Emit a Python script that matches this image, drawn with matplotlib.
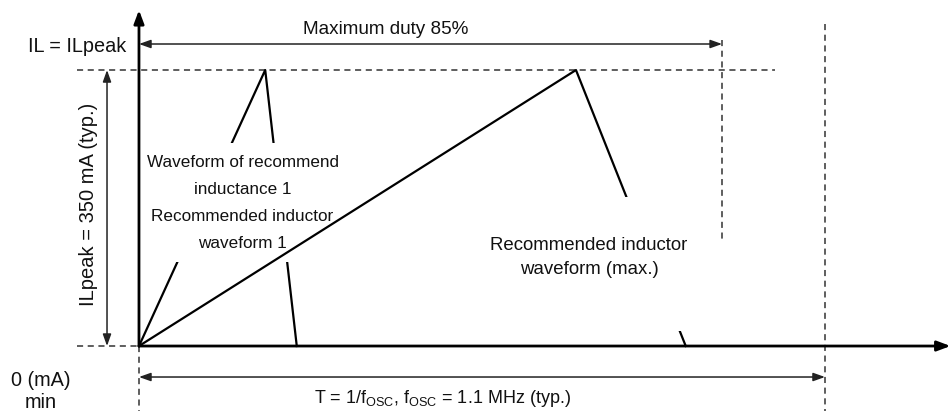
import matplotlib
matplotlib.use('Agg')
import matplotlib.pyplot as plt
from matplotlib.patches import Rectangle

plt.rcParams['font.family'] = ['Liberation Sans', 'DejaVu Sans']

# time as a fraction of the switching period T, current in mA
PEAK_MA = 350
DUTY_MAX = 0.85

wave1_t = [0.0, 0.184, 0.230]
wave1_i = [0, PEAK_MA, 0]
wavemax_t = [0.0, 0.637, 0.797]
wavemax_i = [0, PEAK_MA, 0]

label_wave1 = 'Waveform of recommend\ninductance 1\nRecommended inductor\nwaveform 1'
label_wavemax = 'Recommended inductor\nwaveform (max.)'
label_peak = 'ILpeak = 350 mA (typ.)'
label_duty = 'Maximum duty 85%'
label_period = r'T = 1/f$_{\mathregular{OSC}}$, f$_{\mathregular{OSC}}$ = 1.1 MHz (typ.)'

fig = plt.figure(figsize=(9.51, 4.11), dpi=100)
ax = fig.add_axes([0, 0, 1, 1])
ax.set_xlim(-0.2026, 1.1837)
ax.set_ylim(-82.4, 438.8)
ax.axis('off')

txt = '#111111'

dash = dict(color='#333333', lw=1.1, ls=(0, (4, 3)))
ax.plot([-0.09, 0.927], [PEAK_MA, PEAK_MA], **dash)
ax.plot([-0.09, 0], [0, 0], **dash)
ax.plot([0, 0], [0, -82.4], **dash)
ax.plot([1.0, 1.0], [408, -82.4], **dash)
ax.plot([DUTY_MAX, DUTY_MAX], [388, 134], **dash)

# waveform 1 (partly hidden behind its label)
ax.plot(wave1_t, wave1_i, color='black', lw=1.6, zorder=2)
ax.add_patch(Rectangle((0.016, 106), 0.262, 151, facecolor='white', edgecolor='none', zorder=3))
ax.text(0.151, 181, label_wave1, ha='center', va='center', fontsize=12.3,
        linespacing=2.0, color=txt, zorder=4)

# max waveform
ax.plot(wavemax_t, wavemax_i, color='black', lw=1.6, zorder=5)
ax.add_patch(Rectangle((0.70, 19), 0.13, 170, facecolor='white', edgecolor='none', zorder=6))
ax.text(0.656, 112, label_wavemax, ha='center', va='center', fontsize=13.4,
        linespacing=1.5, color=txt, zorder=7)

# axes with arrows
ax.annotate('', xy=(0, 426), xytext=(0, 0),
            arrowprops=dict(arrowstyle='-|>,head_length=0.8,head_width=0.3', lw=2, color='black',
                            shrinkA=0, shrinkB=0), zorder=8)
ax.annotate('', xy=(1.183, 0), xytext=(0, 0),
            arrowprops=dict(arrowstyle='-|>,head_length=0.8,head_width=0.3', lw=2, color='black',
                            shrinkA=0, shrinkB=0), zorder=8)

# dimension arrows
dim = dict(arrowstyle='<|-|>,head_length=0.7,head_width=0.25', lw=1.1, color='#222222',
           shrinkA=0, shrinkB=0)
ax.annotate('', xy=(0, 383), xytext=(DUTY_MAX, 383), arrowprops=dim)
ax.annotate('', xy=(-0.0466, 0), xytext=(-0.0466, PEAK_MA), arrowprops=dim)
ax.annotate('', xy=(0, -39.3), xytext=(1.0, -39.3), arrowprops=dim)

ax.text(0.359, 401, label_duty, ha='center', va='center', fontsize=13.6, color=txt)
ax.text(-0.0743, 179, label_peak, ha='center', va='center', rotation=90, fontsize=14.5,
        color=txt)
ax.text(-0.0904, 380, 'IL = ILpeak', ha='center', va='center', fontsize=14.3, color=txt)
ax.text(-0.143, -58, '0 (mA)\nmin', ha='center', va='center', fontsize=14.3,
        linespacing=1.2, color=txt)
ax.text(0.443, -66, label_period, ha='center', va='center', fontsize=13, color=txt)

fig.savefig('out.png', dpi=100)
